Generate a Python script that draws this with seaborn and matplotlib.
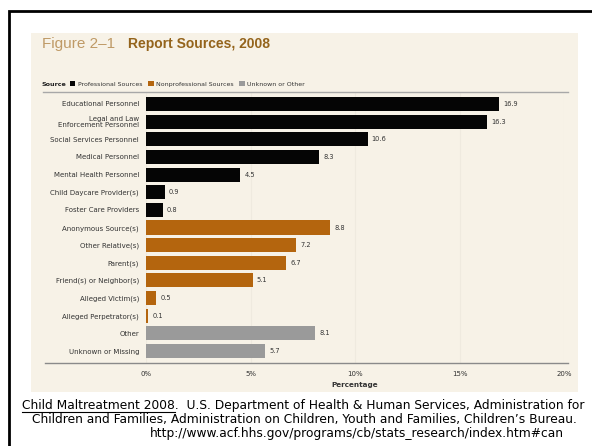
import matplotlib
matplotlib.use("Agg")
import matplotlib.pyplot as plt
from matplotlib.patches import Rectangle
from matplotlib.lines import Line2D
import seaborn as sns
import pandas as pd

# Data
sources = [
    "Educational Personnel",
    "Legal and Law\nEnforcement Personnel",
    "Social Services Personnel",
    "Medical Personnel",
    "Mental Health Personnel",
    "Child Daycare Provider(s)",
    "Foster Care Providers",
    "Anonymous Source(s)",
    "Other Relative(s)",
    "Parent(s)",
    "Friend(s) or Neighbor(s)",
    "Alleged Victim(s)",
    "Alleged Perpetrator(s)",
    "Other",
    "Unknown or Missing",
]
groups = ["Professional Sources"] * 7 + ["Nonprofessional Sources"] * 6 + ["Unknown or Other"] * 2
values = [16.9, 16.3, 10.6, 8.3, 4.5, 0.9, 0.8, 8.8, 7.2, 6.7, 5.1, 0.5, 0.1, 8.1, 5.7]
group_names = ["Professional Sources", "Nonprofessional Sources", "Unknown or Other"]
group_colors = ["#050505", "#b4650e", "#9a9a9a"]
x_ticks = [0, 5, 10, 15, 20]
x_tick_labels = ["0%", "5%", "10%", "15%", "20%"]

df = pd.DataFrame({"source": sources, "percent": values, "group": groups})

W, H = 592, 446
fig = plt.figure(figsize=(W / 100, H / 100), dpi=100)
fig.patch.set_facecolor("white")


def fx(px):
    return px / W


def fy(py):
    return 1 - py / H


# slide frame and cream picture background
fig.add_artist(Rectangle((fx(9), -0.2), 1.2, fy(11) + 0.2, transform=fig.transFigure,
                         fill=False, ec="black", lw=2, zorder=0))
fig.add_artist(Rectangle((fx(31), fy(392)), fx(578) - fx(31), fy(33) - fy(392),
                         transform=fig.transFigure, fc="#f7f2e7", ec="none", zorder=0))

ax = fig.add_axes([fx(146), fy(363), fx(564) - fx(146), fy(92) - fy(363)])
ax.set_facecolor("none")

sns.barplot(data=df, y="source", x="percent", hue="group", hue_order=group_names,
            palette=group_colors, dodge=False, width=0.8, saturation=1, ax=ax)

for c in ax.containers:
    ax.bar_label(c, fmt="%.1f", padding=3, fontsize=4.8, color="#333333")

handles, labels = ax.get_legend_handles_labels()
ax.get_legend().remove()

ax.set_xlim(0, 20)
ax.set_ylim(14.68, -0.68)
ax.set_xticks(x_ticks)
ax.set_xticklabels(x_tick_labels)
ax.set_xlabel("Percentage", fontsize=5.2, fontweight="bold", color="#333333", labelpad=3)
ax.set_ylabel("")
ax.tick_params(axis="both", length=0, labelsize=5, colors="#333333")
ax.tick_params(axis="x", pad=6)
ax.tick_params(axis="y", pad=5)
for lab in ax.get_yticklabels():
    lab.set_linespacing(0.9)
for s in ax.spines.values():
    s.set_visible(False)
ax.grid(axis="x", color="#efeadf", lw=0.8)
ax.set_axisbelow(True)

# top and bottom rules
fig.add_artist(Line2D([fx(43), fx(568)], [fy(92), fy(92)], color="#a8a8a8", lw=1))
fig.add_artist(Line2D([fx(45), fx(568)], [fy(363), fy(363)], color="#8a8a8a", lw=1))

# title
fig.text(fx(42), fy(44), "Figure 2\u20131", fontsize=11, color="#bf9a66", va="center",
         family="Liberation Sans")
fig.text(fx(128), fy(44), "Report Sources, 2008", fontsize=10, fontweight="bold",
         color="#94641c", va="center", family="Liberation Sans")

# legend
fig.text(fx(42), fy(84), "Source", fontsize=4.6, fontweight="bold", color="#222222", va="center")
fig.legend(handles, labels, ncol=3, loc="center left", bbox_to_anchor=(fx(64), fy(84)),
           frameon=False, fontsize=4.5, handlelength=0.9, handleheight=0.9,
           handletextpad=0.4, columnspacing=0.9, labelcolor="#333333")

# caption
cap_font = dict(fontsize=8.8, color="black", family="DejaVu Sans", va="center", ha="left")
fig.text(fx(22), fy(405), "Child Maltreatment 2008.  U.S. Department of Health & Human Services, Administration for", **cap_font)
fig.text(fx(32), fy(419), "Children and Families, Administration on Children, Youth and Families, Children\u2019s Bureau.", **cap_font)
fig.text(fx(150), fy(433), "http://www.acf.hhs.gov/programs/cb/stats_research/index.htm#can", **cap_font)

fig.canvas.draw()
r = fig.canvas.get_renderer()
tmp = fig.text(fx(22), fy(405), "Child Maltreatment 2008", **cap_font)
bb = tmp.get_window_extent(r)
tmp.remove()
fig.add_artist(Line2D([bb.x0 / W, bb.x1 / W], [fy(411.5), fy(411.5)], color="black", lw=0.8))

fig.savefig("out.png", dpi=100)
